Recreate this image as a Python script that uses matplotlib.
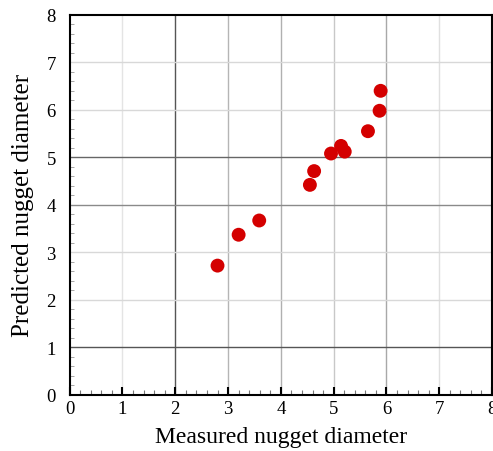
import matplotlib.pyplot as plt
from matplotlib.ticker import MultipleLocator

plt.rcParams['font.family'] = ['Liberation Serif', 'DejaVu Serif']

# measured vs predicted nugget diameters
measured = [2.80, 3.20, 3.59, 4.55, 4.63, 4.95, 5.14, 5.21, 5.65, 5.87, 5.89]
predicted = [2.72, 3.37, 3.67, 4.42, 4.71, 5.08, 5.24, 5.12, 5.55, 5.98, 6.40]

ticks = list(range(0, 9))

fig = plt.figure(figsize=(4.93, 4.52), dpi=100)
ax = fig.add_axes([0.1414, 0.1243, 0.8566, 0.8407])

# grid lines of uneven weight
x_grid = {1: '#e4e4e4', 2: '#555555', 3: '#b5b5b5', 4: '#b0b0b0',
          5: '#c8c8c8', 6: '#a8a8a8', 7: '#e0e0e0'}
y_grid = {1: '#555555', 2: '#d8d8d8', 3: '#d8d8d8', 4: '#8a8a8a',
          5: '#666666', 6: '#d8d8d8', 7: '#d8d8d8'}
for v, c in x_grid.items():
    ax.axvline(v, color=c, lw=1.0, zorder=0)
for v, c in y_grid.items():
    ax.axhline(v, color=c, lw=1.0, zorder=0)

ax.scatter(measured, predicted, s=100, color='#d40000', edgecolors='none', zorder=3)

ax.set_xlim(0, 8)
ax.set_ylim(0, 8)
ax.set_xticks(ticks)
ax.set_yticks(ticks)
ax.xaxis.set_minor_locator(MultipleLocator(0.2))
ax.yaxis.set_minor_locator(MultipleLocator(0.2))
ax.tick_params(axis='x', which='major', direction='in', length=6, width=1.5,
               labelsize=13.5, pad=4)
ax.tick_params(axis='x', which='minor', direction='in', length=3.5, width=0.8,
               color='#777777')
ax.tick_params(axis='y', which='major', direction='in', length=0,
               labelsize=13.5, pad=10)
ax.tick_params(axis='y', which='minor', direction='in', length=3, width=0.6,
               color='#999999')
for s in ax.spines.values():
    s.set_linewidth(1.5)

ax.set_xlabel('Measured nugget diameter', fontsize=17, labelpad=6)
ax.set_ylabel('Predicted nugget diameter', fontsize=18, labelpad=9)

fig.savefig('out.png', dpi=100)
